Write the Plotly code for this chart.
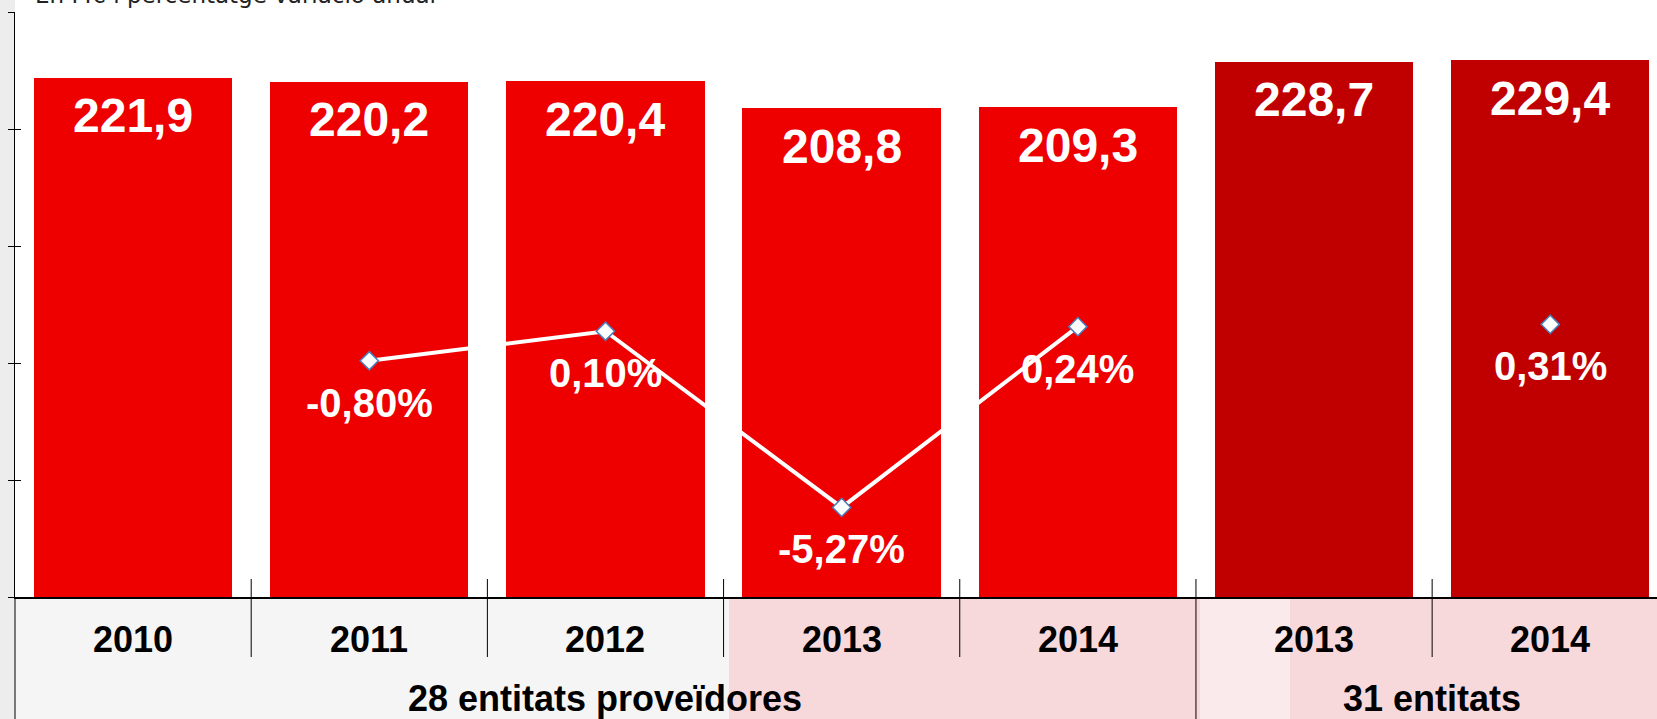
import plotly.graph_objects as go

# ---- data ----
years = ["2010", "2011", "2012", "2013", "2014", "2013", "2014"]
groups = ["28 entitats proveïdores", "31 entitats"]
group_sizes = [5, 2]
values = [221.9, 220.2, 220.4, 208.8, 209.3, 228.7, 229.4]
pct_28 = [None, -0.80, 0.10, -5.27, 0.24]          # 2010..2014 (28 entitats)
pct_31 = [None, 0.31]                              # 2013..2014 (31 entitats)
title_text = "En M€ i percentatge variació anual"

# ---- styling ----
RED = "#EE0000"
DARK = "#C00000"
W, H = 1657, 719
ML, MT, MB = 15, 12, 122
plot_h = H - MT - MB

def py(px):  # pixel y -> paper y
    return (H - MB - px) / plot_h

def pxx(px):  # pixel x -> paper x
    return (px - ML) / (W - ML)

x_idx = list(range(len(years)))
colors = [RED] * group_sizes[0] + [DARK] * group_sizes[1]

fig = go.Figure()
fig.add_trace(go.Bar(x=x_idx, y=values, marker=dict(color=colors, line=dict(width=0)),
                     width=0.84, hoverinfo="skip", showlegend=False))

x28 = x_idx[:group_sizes[0]]
x31 = x_idx[group_sizes[0]:]
fig.add_trace(go.Scatter(x=x28, y=pct_28, yaxis="y2", mode="lines+markers",
                         line=dict(color="white", width=4),
                         marker=dict(symbol="diamond", size=14, color="white",
                                     line=dict(color="#4A7EBB", width=1.5)),
                         connectgaps=False, showlegend=False))
fig.add_trace(go.Scatter(x=x31, y=pct_31, yaxis="y2", mode="markers",
                         marker=dict(symbol="diamond", size=14, color="white",
                                     line=dict(color="#4A7EBB", width=1.5)),
                         showlegend=False))

ann = []
# bar value labels
for x, v in zip(x_idx, values):
    ann.append(dict(x=x, y=v, xref="x", yref="y", text=f"{v:.1f}".replace(".", ","),
                    showarrow=False, yanchor="middle", yshift=-38,
                    font=dict(family="Liberation Sans, Arial", size=48, color="white", weight="bold")))
# percentage labels
for xs, ps in ((x28, pct_28), (x31, pct_31)):
    for x, p in zip(xs, ps):
        if p is None:
            continue
        ann.append(dict(x=x, y=p, xref="x", yref="y2", text=f"{p:.2f}%".replace(".", ","),
                        showarrow=False, yanchor="middle", yshift=-42,
                        font=dict(family="Liberation Sans, Arial", size=40, color="white", weight="bold")))
# year labels
for x, yr in zip(x_idx, years):
    ann.append(dict(x=x, y=py(639), xref="x", yref="paper", text=yr, showarrow=False,
                    yanchor="middle",
                    font=dict(family="Liberation Sans Narrow, Arial Narrow, Liberation Sans", size=36,
                              color="black", weight="bold")))
# group labels
start = 0
for g, n in zip(groups, group_sizes):
    ann.append(dict(x=start + (n - 1) / 2, y=py(698), xref="x", yref="paper", text=g,
                    showarrow=False, yanchor="middle",
                    font=dict(family="Liberation Sans Narrow, Arial Narrow, Liberation Sans", size=36,
                              color="black", weight="bold")))
    start += n
# title (cut off at top, as in the original)
ann.append(dict(x=pxx(33), y=1.0, xref="paper", yref="paper", xanchor="left", yanchor="bottom",
                yshift=2, text=title_text, showarrow=False,
                font=dict(family="DejaVu Sans, Verdana", size=23, color="#222222")))

shapes = []
# background blur approximation
shapes.append(dict(type="rect", xref="paper", yref="paper", x0=pxx(0), x1=pxx(ML), y0=py(H), y1=py(0),
                   fillcolor="#EDEDED", line=dict(width=0), layer="below"))
shapes.append(dict(type="rect", xref="paper", yref="paper", x0=pxx(ML), x1=pxx(729), y0=py(H), y1=py(H - MB),
                   fillcolor="#F5F5F5", line=dict(width=0), layer="below"))
shapes.append(dict(type="rect", xref="paper", yref="paper", x0=pxx(729), x1=1, y0=py(H), y1=py(H - MB),
                   fillcolor="#F7D9DC", line=dict(width=0), layer="below"))
shapes.append(dict(type="rect", xref="paper", yref="paper", x0=pxx(1200), x1=pxx(1290), y0=py(H), y1=py(H - MB),
                   fillcolor="#FAEAEC", line=dict(width=0), layer="below"))
# category separators
n_all = len(years)
boundaries = [i + 0.5 for i in range(n_all - 1)]
group_edge = group_sizes[0] - 0.5
for b in boundaries:
    y_bot = py(H) if b == group_edge else py(657)
    shapes.append(dict(type="line", xref="x", yref="paper", x0=b, x1=b, y0=py(579), y1=y_bot,
                       line=dict(color="black", width=1)))
# y-axis line extension down to the bottom
shapes.append(dict(type="line", xref="paper", yref="paper", x0=0, x1=0, y0=0, y1=py(H),
                   line=dict(color="black", width=1)))

fig.update_layout(
    width=W, height=H,
    margin=dict(l=ML, r=0, t=MT, b=MB),
    paper_bgcolor="white", plot_bgcolor="white",
    bargap=0,
    xaxis=dict(range=[-0.5, 6.452], showticklabels=False, showgrid=False, zeroline=False,
               showline=True, linecolor="black", linewidth=1.5, ticks=""),
    yaxis=dict(range=[0, 250], dtick=50, showticklabels=False, showgrid=False, zeroline=False,
               showline=True, linecolor="black", linewidth=1, ticks="outside", ticklen=6,
               tickcolor="black"),
    yaxis2=dict(range=[-8.0, 9.83], overlaying="y", side="right", showticklabels=False,
                showgrid=False, zeroline=False, showline=False, ticks=""),
    yaxis3=dict(range=[0, 250], dtick=50, overlaying="y", side="left", anchor="x",
                showticklabels=False, showgrid=False, zeroline=False, showline=False,
                ticks="inside", ticklen=6, tickcolor="black"),
    annotations=ann, shapes=shapes,
)
# invisible trace so that yaxis3 (inner tick marks) is drawn
fig.add_trace(go.Scatter(x=[None], y=[None], yaxis="y3", showlegend=False, hoverinfo="skip"))

fig.write_html("out.html", config={"displayModeBar": False},
               post_script="document.body.style.margin='0';document.body.style.overflow='hidden';")
